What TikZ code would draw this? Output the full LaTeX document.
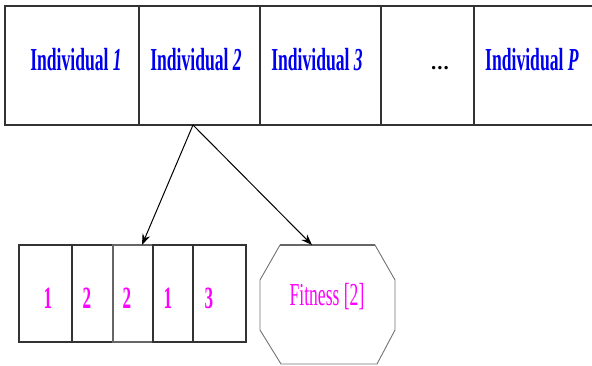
\documentclass[tikz,border=0pt]{standalone}
\usepackage{fontspec}
\setmainfont{Liberation Serif}
\usetikzlibrary{arrows.meta}
\definecolor{mag}{RGB}{255,0,255}
\definecolor{blu}{RGB}{0,0,240}
\newcommand{\cond}[1]{\scalebox{0.55}[1]{#1}}
\begin{document}
\begin{tikzpicture}[x=1pt,y=-1pt,
  cell/.style={draw=black!80, line width=1.1pt, minimum height=#1, inner sep=0pt, outer sep=0pt},
  ind/.style={text=blu, font=\fontsize{32}{32}\selectfont\bfseries},
  gene/.style={text=mag, font=\fontsize{31}{31}\selectfont\bfseries},
  arr/.style={line width=1pt, -{Stealth[length=11pt,width=8pt]}}]
\useasboundingbox (0,0) rectangle (592,365);
% top row
\node[cell=119pt, minimum width=134pt] (c1) at (72,65.5) {};
\node[cell=119pt, minimum width=121pt] (c2) at (199.5,65.5) {};
\node[cell=119pt, minimum width=121pt] (c3) at (320.5,65.5) {};
\node[cell=119pt, minimum width=93pt] (c4) at (427.5,65.5) {};
\node[cell=119pt, minimum width=130pt] (c5) at (539,65.5) {};
\node[ind] (t1) at (76,60) {\cond{Individual \textit{1}}};
\node[ind] (t2) at (196,60) {\cond{Individual \textit{2}}};
\node[ind] (t3) at (317,60) {\cond{Individual \textit{3}}};
\node[font=\fontsize{21}{21}\selectfont\bfseries, anchor=base] (t4) at (440,69) {.\kern1pt.\kern1pt.};
\node[ind] (t5) at (532,60) {\cond{Individual \textit{P}}};
% bottom row
\node[cell=97pt, minimum width=53pt] (g1) at (45.5,293.5) {};
\node[cell=97pt, minimum width=41pt] (g2) at (92.5,293.5) {};
\node[cell=97pt, minimum width=40pt, draw=black!60] (g3) at (133,293.5) {};
\node[cell=97pt, minimum width=40pt] (g4) at (173,293.5) {};
\node[cell=97pt, minimum width=53pt] (g5) at (219.5,293.5) {};
\node[gene] at (48,298) {\cond{1}};
\node[gene] at (87,298) {\cond{2}};
\node[gene] at (127,298) {\cond{2}};
\node[gene] at (168,298) {\cond{1}};
\node[gene] at (209,298) {\cond{3}};
% fitness octagon
\draw[black!55, line width=0.9pt] (280,245) -- (375,245) -- (395,280) -- (395,330) -- (377,364) -- (281,364) -- (260,330) -- (260,280) -- cycle;
\draw[black!60, line width=2pt] (280,245) -- (375,245);
\node[text=mag, font=\fontsize{32}{32}\selectfont] (fit) at (327,297) {\cond{Fitness [2]}};
% connectors
\coordinate (src) at (193,125);
\coordinate (dst1) at (142,245);
\coordinate (dst2) at (312,245);
\draw[arr] (src) -- (dst1);
\draw[arr] (src) -- (dst2);
\end{tikzpicture}
\end{document}
